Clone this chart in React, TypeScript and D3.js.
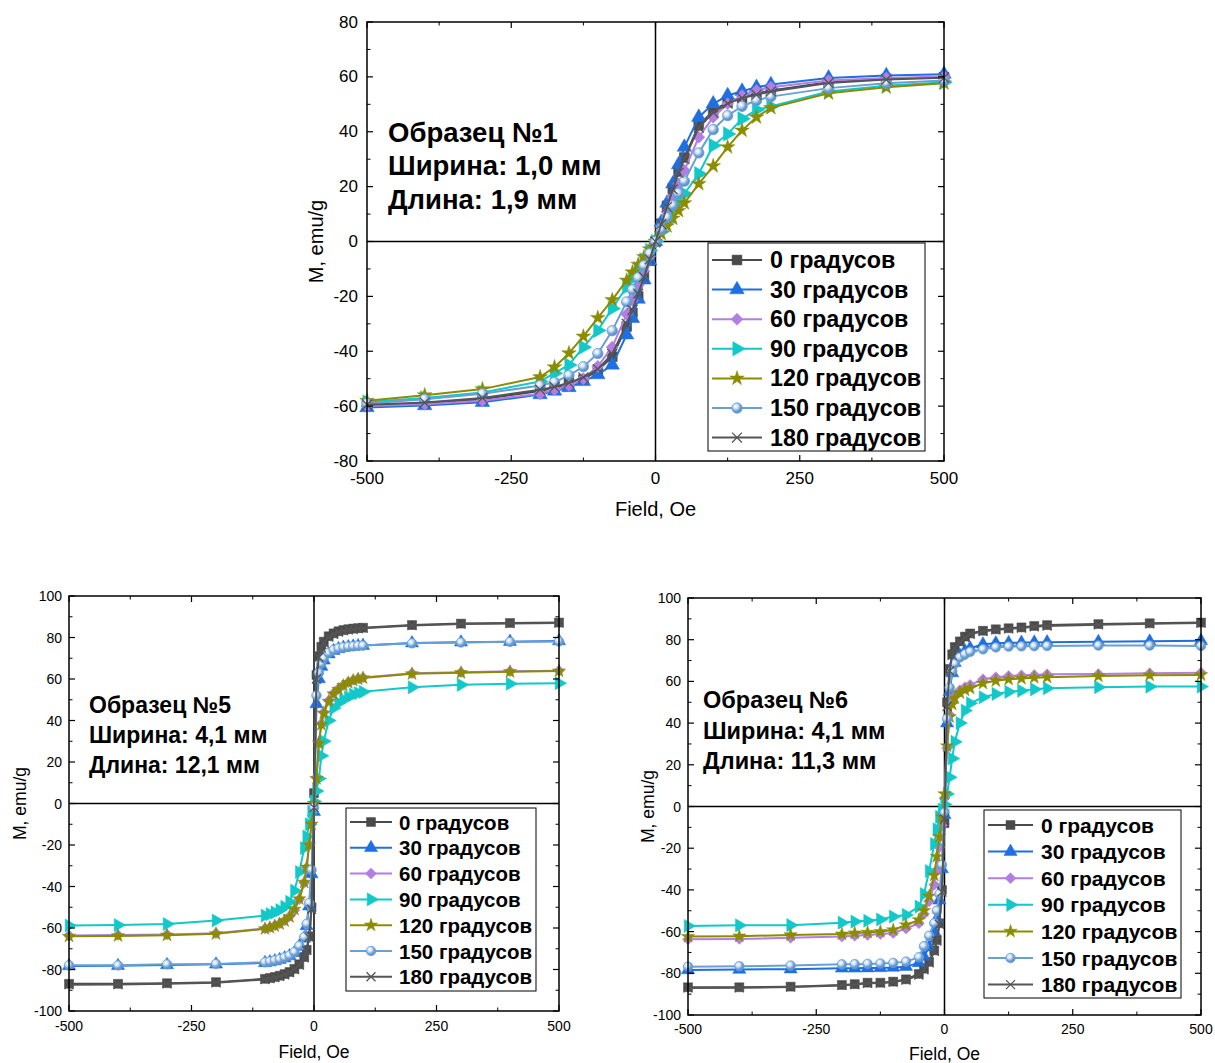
import React from 'react';
import * as d3 from 'd3';

// ---------- DATA ----------
const SERIES_NAMES = ['0 градусов', '30 градусов', '60 градусов', '90 градусов', '120 градусов', '150 градусов', '180 градусов'];
const COLORS = ['#4a4a4a', '#1f6fe0', '#b27ee2', '#12c8c8', '#8c8c00', '#6a9fd6', '#555555'];
const MARKERS = ['square', 'triangle', 'diamond', 'tright', 'star', 'circle', 'x'];

const X_TICKS = [-500, -250, 0, 250, 500];
const X_MINOR = [-375, -125, 125, 375];

// Sample 1
const F1 = [-500, -400, -300, -200, -175, -150, -125, -100, -75, -50, -40, -30, -20, -10, 0, 10, 20, 30, 40, 50, 75, 100, 125, 150, 175, 200, 300, 400, 500];
const S1_0 = [-59.8, -59, -57.5, -54.5, -53.3, -52, -50.3, -47, -42, -31, -26, -20, -13.5, -7, 0, 6.5, 13, 19.5, 25.5, 30.6, 42.3, 47.7, 50.8, 52.6, 53.8, 55, 58, 59.3, 59.9];
const S1_30 = [-60.5, -59.8, -58.6, -55.8, -54.5, -53.2, -51, -48.5, -45, -34, -28, -21, -14, -7, 0, 7, 14, 21, 28, 34.4, 45.3, 50.2, 53.2, 54.8, 56.2, 57.2, 59.6, 60.5, 61];
const S1_60 = [-60, -59.3, -58, -55.5, -54, -52.5, -50, -45.5, -38.5, -26.5, -21.5, -16, -10.8, -5.4, 0, 5.4, 10.8, 16, 21, 25.9, 38, 45.3, 50.2, 53.2, 55, 56.2, 58.7, 59.6, 60.1];
const S1_90 = [-58.5, -57, -55, -51, -48, -45, -38.5, -32.4, -24.4, -16.6, -13.5, -10, -6.7, -3.3, 0, 3.6, 7.2, 10.8, 14.2, 17.4, 24.7, 35, 39.2, 44.7, 48, 49.2, 54.7, 56.8, 58];
const S1_120 = [-58, -56, -53.8, -49.4, -45.8, -40.7, -34.6, -27.8, -21.3, -14.2, -11.2, -8.4, -5.6, -2.8, 0, 2.8, 5.6, 8.4, 11.2, 14, 21, 27.5, 34.4, 40.5, 45.3, 48.7, 54, 56.2, 57.7];
const S1_150 = [-59, -57.5, -55.5, -52.5, -51.3, -48.8, -45.6, -40.8, -32.5, -22, -17.6, -13.2, -8.8, -4.4, 0, 4.4, 8.8, 13.2, 17.6, 22, 32.3, 40.8, 45.9, 49.3, 51.4, 52.8, 55.9, 57.7, 58.7];
const S1_180 = [-59.5, -58.7, -57, -54, -53, -51.5, -49.5, -46.5, -41, -30, -25, -19, -13, -6.5, 0, 6.3, 12.6, 19, 25, 30, 41.5, 47, 50.3, 52.3, 53.5, 54.7, 57.8, 59, 59.7];

// Sample 5
const F5 = [-500, -400, -300, -200, -100, -90, -80, -70, -60, -50, -40, -30, -20, -15, -10, -5, 0, 5, 10, 15, 20, 30, 40, 50, 60, 70, 80, 90, 100, 200, 300, 400, 500];
const S5_0 = [-86.9, -86.9, -86.6, -86.1, -84.5, -84.1, -83.6, -83, -82.2, -81.2, -79.7, -77.5, -74, -70.5, -64, -50, 5, 62, 71, 75.5, 78, 80.6, 82, 83, 83.6, 84, 84.3, 84.5, 84.7, 86, 86.7, 87, 87.2];
const S5_30 = [-78.3, -78.2, -77.8, -77.5, -76.8, -76.4, -75.9, -75.3, -74.5, -73.5, -72, -69, -65, -59, -49.5, -34, -4, 48, 60, 66, 69, 72, 73.6, 74.5, 75.1, 75.4, 75.7, 75.9, 76.1, 77.3, 77.7, 78, 78.3];
const S5_60 = [-63.6, -63.4, -63.1, -62.5, -60.2, -59.6, -58.8, -57.8, -56.4, -54.4, -51.4, -46.2, -38.2, -31, -20, -10, 0.5, 12.5, 29.5, 38.5, 44, 49.6, 53.1, 55.3, 57.1, 58.4, 59.5, 60.2, 60.7, 62.8, 63.3, 63.7, 64];
const S5_90 = [-58.8, -58.6, -58.1, -56.4, -54, -53.3, -52.5, -51.4, -49.8, -47.4, -42, -33, -21.5, -16, -10, -4, 1, 6, 12, 23, 30, 40, 46, 48.5, 50, 51.3, 52.5, 53.2, 53.8, 56, 57.2, 57.7, 58];
const S5_120 = [-64, -63.8, -63.5, -62.8, -60.4, -59.8, -59, -58, -56.6, -54.6, -51, -46, -38, -30.7, -20, -10, 0, 12, 29, 38, 43.5, 49.2, 52.8, 55, 56.8, 58.2, 59.3, 60, 60.5, 62.5, 63, 63.5, 63.8];
const S5_150 = [-78, -78, -77.5, -77.3, -76.5, -76.1, -75.6, -75, -74.2, -73.2, -71.6, -68.6, -64.4, -58, -48, -32, -2, 52, 63, 67.5, 70, 72.6, 74, 74.8, 75.3, 75.6, 75.8, 76, 76.1, 77.2, 77.6, 77.9, 78.1];
const S5_180 = [-87.3, -87.2, -86.9, -86.4, -84.8, -84.4, -83.9, -83.3, -82.5, -81.5, -80, -77.8, -74.3, -70.8, -64.5, -51, -2, 60, 70.5, 75, 77.6, 80.2, 81.6, 82.6, 83.3, 83.7, 84, 84.3, 84.5, 85.8, 86.5, 86.8, 87];

// Sample 6
const F6 = [-500, -400, -300, -200, -175, -150, -125, -100, -75, -50, -40, -30, -20, -15, -10, -5, 0, 5, 10, 15, 20, 30, 40, 50, 75, 100, 125, 150, 175, 200, 300, 400, 500];
const S6_0 = [-86.7, -86.7, -86.4, -85.6, -85.2, -84.5, -84.5, -84, -82.9, -80.3, -77.8, -74.5, -69, -64, -56, -40, -8, 50, 66, 73, 76.5, 79.2, 81.5, 83, 84.3, 85, 85.5, 85.9, 86.6, 87, 87.5, 87.9, 88.2];
const S6_30 = [-78.4, -78.2, -78, -77.6, -77.6, -77.5, -77.4, -77.2, -76.8, -75, -72, -67.5, -60, -54, -45, -30, -4, 40, 55, 64, 69, 72.5, 74.5, 75.9, 77.8, 78.3, 78.5, 78.6, 78.7, 78.8, 79, 79.2, 79.5];
const S6_60 = [-63.7, -63.5, -63, -62.4, -62, -61.6, -61.2, -60.7, -58.5, -56, -51.5, -45.5, -37.5, -30.5, -19.5, -9, 4, 28, 44, 50, 53, 55.8, 57.2, 58.3, 61, 62, 62.6, 62.9, 63.1, 63.4, 63.5, 63.9, 64.2];
const S6_90 = [-57.3, -57, -56.9, -55.7, -55.2, -54.8, -54.2, -52.8, -52, -48, -42, -31, -18, -11, -5, -1.5, 1, 6, 14, 23, 31, 40, 46, 49.5, 52.4, 54, 55, 55.5, 56.2, 56.7, 57.2, 57.5, 57.5];
const S6_120 = [-62.4, -62.2, -61.6, -61.2, -60.7, -60.4, -60, -59.2, -56.8, -54.4, -50, -43, -33, -24, -14.5, -5, 6, 29, 43, 49, 52, 54.5, 55.8, 56.7, 59.1, 60.3, 61, 61.4, 61.8, 62, 62.6, 63, 63.1];
const S6_150 = [-76.8, -76.6, -76.3, -75.7, -75.6, -75.5, -75.3, -75, -74.4, -72.3, -67, -62, -56, -50, -42, -28, -3, 42, 57, 65, 68.5, 71.5, 73, 74.2, 75.4, 76.3, 76.7, 76.8, 76.9, 77, 77.2, 77.2, 77];
const S6_180 = [-87, -86.9, -86.6, -85.8, -85.4, -84.8, -84.7, -84.2, -83.2, -80.8, -78.3, -75, -69.5, -64.5, -56.5, -41, -6, 48, 65, 72.5, 76, 78.8, 81, 82.6, 84, 84.7, 85.2, 85.6, 86.2, 86.6, 87.2, 87.6, 88];

const Y_TICKS_1 = [-80, -60, -40, -20, 0, 20, 40, 60, 80];
const Y_TICKS_2 = [-100, -80, -60, -40, -20, 0, 20, 40, 60, 80, 100];

const NOTE_1 = ['Образец №1', 'Ширина: 1,0 мм', 'Длина: 1,9 мм'];
const NOTE_5 = ['Образец №5', 'Ширина: 4,1 мм', 'Длина: 12,1 мм'];
const NOTE_6 = ['Образец №6', 'Ширина: 4,1 мм', 'Длина: 11,3 мм'];

// ---------- DRAWING ----------
const FONT = 'Arial, "Liberation Sans", Helvetica, sans-serif';

function Marker({ kind, x, y, color, size, gid }: any) {
  const r = size / 2;
  if (kind === 'x') {
    const a = r * 0.9;
    return (
      <path d={`M${x - a},${y - a}L${x + a},${y + a}M${x - a},${y + a}L${x + a},${y - a}`} stroke={color} strokeWidth={1.3} fill="none" />
    );
  }
  if (kind === 'circle') {
    return <circle cx={x} cy={y} r={r * 0.95} fill={`url(#${gid})`} stroke={color} strokeWidth={0.8} />;
  }
  let sym: any = d3.symbolSquare;
  let rot = 0;
  let area = size * size * 0.8;
  if (kind === 'triangle') { sym = d3.symbolTriangle; area = size * size * 0.75; }
  if (kind === 'tright') { sym = d3.symbolTriangle; rot = 90; area = size * size * 0.75; }
  if (kind === 'diamond') { sym = d3.symbolSquare; rot = 45; area = size * size * 0.6; }
  if (kind === 'star') { sym = d3.symbolStar; area = size * size * 0.55; }
  const d = d3.symbol().type(sym).size(area)() as string;
  return <path d={d} transform={`translate(${x},${y}) rotate(${rot})`} fill={color} stroke={color} strokeWidth={0.5} />;
}

function Panel({ cfg }: any) {
  const x = d3.scaleLinear().domain([-500, 500]).range([cfg.left, cfg.right]);
  const y = d3.scaleLinear().domain(cfg.yDomain).range([cfg.bottom, cfg.top]);
  const line = d3.line<[number, number]>().x((d) => x(d[0])).y((d) => y(d[1]));
  const gid = `grad_${cfg.id}`;
  const yMinor = d3.range(cfg.yDomain[0] + 10, cfg.yDomain[1], 20);
  const TL = 6, TM = 3.5;
  return (
    <g fontFamily={FONT}>
      <defs>
        <radialGradient id={gid} cx="38%" cy="35%" r="65%">
          <stop offset="0%" stopColor="#ffffff" />
          <stop offset="35%" stopColor="#cfe0f2" />
          <stop offset="70%" stopColor={COLORS[5]} />
          <stop offset="100%" stopColor="#5a8ec6" />
        </radialGradient>
      </defs>
      <line x1={x(0)} x2={x(0)} y1={cfg.top} y2={cfg.bottom} stroke="#000" strokeWidth={1.5} />
      <line x1={cfg.left} x2={cfg.right} y1={y(0)} y2={y(0)} stroke="#000" strokeWidth={1.5} />
      {cfg.series.map((vals: number[], si: number) => {
        const pts: [number, number][] = cfg.fields.map((f: number, i: number) => [f, vals[i]]);
        return (
          <g key={si}>
            <path d={line(pts) as string} fill="none" stroke={COLORS[si]} strokeWidth={cfg.lw} strokeLinejoin="round" />
            {pts.map((p, i) => (
              <Marker key={i} kind={MARKERS[si]} x={x(p[0])} y={y(p[1])} color={COLORS[si]} size={cfg.ms} gid={gid} />
            ))}
          </g>
        );
      })}
      <rect x={cfg.left} y={cfg.top} width={cfg.right - cfg.left} height={cfg.bottom - cfg.top} fill="none" stroke="#000" strokeWidth={1.5} />
      {X_TICKS.map((t) => (
        <g key={'xt' + t}>
          <line x1={x(t)} x2={x(t)} y1={cfg.bottom} y2={cfg.bottom - TL} stroke="#000" strokeWidth={1.2} />
          <line x1={x(t)} x2={x(t)} y1={cfg.top} y2={cfg.top + TL} stroke="#000" strokeWidth={1.2} />
          <text x={x(t)} y={cfg.xTickY} textAnchor="middle" fontSize={cfg.tickFont}>{t}</text>
        </g>
      ))}
      {X_MINOR.map((t) => (
        <g key={'xm' + t}>
          <line x1={x(t)} x2={x(t)} y1={cfg.bottom} y2={cfg.bottom - TM} stroke="#000" strokeWidth={1} />
          <line x1={x(t)} x2={x(t)} y1={cfg.top} y2={cfg.top + TM} stroke="#000" strokeWidth={1} />
        </g>
      ))}
      {cfg.yTicks.map((t: number) => (
        <g key={'yt' + t}>
          <line x1={cfg.left} x2={cfg.left + TL} y1={y(t)} y2={y(t)} stroke="#000" strokeWidth={1.2} />
          <line x1={cfg.right} x2={cfg.right - TL} y1={y(t)} y2={y(t)} stroke="#000" strokeWidth={1.2} />
          <text x={cfg.yTickX} y={y(t)} textAnchor="end" dominantBaseline="central" fontSize={cfg.tickFont}>{t}</text>
        </g>
      ))}
      {yMinor.map((t: number) => (
        <g key={'ym' + t}>
          <line x1={cfg.left} x2={cfg.left + TM} y1={y(t)} y2={y(t)} stroke="#000" strokeWidth={1} />
          <line x1={cfg.right} x2={cfg.right - TM} y1={y(t)} y2={y(t)} stroke="#000" strokeWidth={1} />
        </g>
      ))}
      <text x={x(0)} y={cfg.xTitleY} textAnchor="middle" fontSize={cfg.titleFont}>Field, Oe</text>
      <text transform={`translate(${cfg.yLabelX},${y(0)}) rotate(-90)`} textAnchor="middle" dominantBaseline="central" fontSize={cfg.titleFont}>M, emu/g</text>
      {cfg.note.map((s: string, i: number) => (
        <text key={'n' + i} x={cfg.noteX} y={cfg.noteY[i]} fontSize={cfg.noteFont} fontWeight="bold">{s}</text>
      ))}
      <rect x={cfg.leg[0]} y={cfg.leg[1]} width={cfg.leg[2] - cfg.leg[0]} height={cfg.leg[3] - cfg.leg[1]} fill="#fff" stroke="#000" strokeWidth={1} />
      {SERIES_NAMES.map((name, i) => {
        const ly = cfg.legY0 + i * cfg.legStep;
        const mx = (cfg.legLine[0] + cfg.legLine[1]) / 2;
        return (
          <g key={'l' + i}>
            <line x1={cfg.legLine[0]} x2={cfg.legLine[1]} y1={ly} y2={ly} stroke={COLORS[i]} strokeWidth={cfg.lw} />
            <Marker kind={MARKERS[i]} x={mx} y={ly} color={COLORS[i]} size={cfg.ms} gid={gid} />
            <text x={cfg.legTextX} y={ly} dominantBaseline="central" fontSize={cfg.legFont} fontWeight="bold">{name}</text>
          </g>
        );
      })}
    </g>
  );
}

const PANEL_1 = {
  id: 'p1', left: 367, right: 944, top: 22, bottom: 461, yDomain: [-80, 80], yTicks: Y_TICKS_1,
  fields: F1, series: [S1_0, S1_30, S1_60, S1_90, S1_120, S1_150, S1_180],
  tickFont: 17, titleFont: 20, yTickX: 358, xTickY: 484, xTitleY: 516, yLabelX: 316,
  note: NOTE_1, noteX: 388, noteY: [142, 175, 209], noteFont: 27.5,
  leg: [708, 243, 925, 451], legY0: 260, legStep: 29.6, legLine: [712, 762], legTextX: 770, legFont: 23.3,
  lw: 2, ms: 11,
};
const PANEL_5 = {
  id: 'p5', left: 69, right: 559, top: 596, bottom: 1011, yDomain: [-100, 100], yTicks: Y_TICKS_2,
  fields: F5, series: [S5_0, S5_30, S5_60, S5_90, S5_120, S5_150, S5_180],
  tickFont: 14, titleFont: 17.5, yTickX: 62, xTickY: 1031, xTitleY: 1058, yLabelX: 20,
  note: NOTE_5, noteX: 89, noteY: [713, 743, 773], noteFont: 23,
  leg: [346, 808, 536, 991], legY0: 822, legStep: 25.8, legLine: [350, 392], legTextX: 399, legFont: 20.5,
  lw: 2, ms: 10,
};
const PANEL_6 = {
  id: 'p6', left: 688, right: 1201, top: 598, bottom: 1015, yDomain: [-100, 100], yTicks: Y_TICKS_2,
  fields: F6, series: [S6_0, S6_30, S6_60, S6_90, S6_120, S6_150, S6_180],
  tickFont: 14, titleFont: 17.5, yTickX: 681, xTickY: 1034, xTitleY: 1060, yLabelX: 648,
  note: NOTE_6, noteX: 703, noteY: [708, 739, 769], noteFont: 23.5,
  leg: [984, 810, 1181, 998], legY0: 825, legStep: 26.6, legLine: [988, 1033], legTextX: 1041, legFont: 21,
  lw: 2, ms: 10,
};

export default function App() {
  return (
    <svg width={1215} height={1063} style={{ position: 'absolute', left: 0, top: 0, background: '#fff' }}>
      <rect x={0} y={0} width={1215} height={1063} fill="#fff" />
      <Panel cfg={PANEL_1} />
      <Panel cfg={PANEL_5} />
      <Panel cfg={PANEL_6} />
    </svg>
  );
}
